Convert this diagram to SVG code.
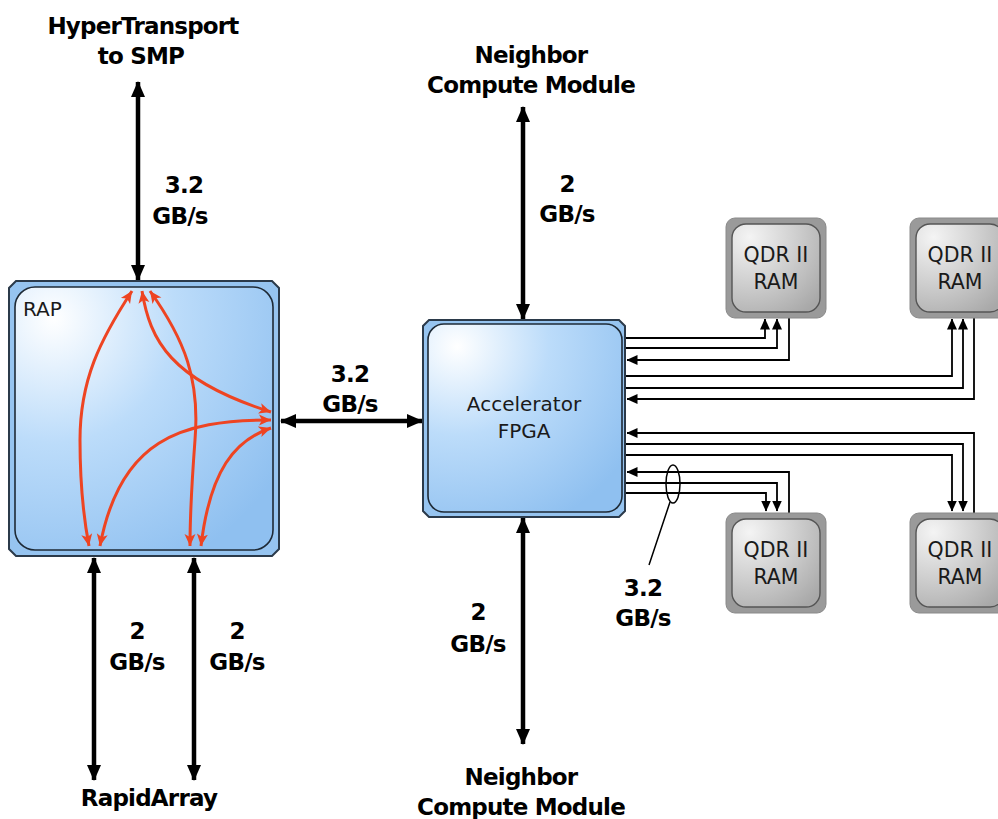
<svg xmlns="http://www.w3.org/2000/svg" width="998" height="819" viewBox="0 0 998 819">
<defs>
<radialGradient id="blueG" cx="0.15" cy="0.12" r="1.05" fx="0.15" fy="0.12">
<stop offset="0" stop-color="#ffffff"/>
<stop offset="0.45" stop-color="#bcdcfa"/>
<stop offset="1" stop-color="#8fc0f0"/>
</radialGradient>
<radialGradient id="grayG" cx="0.2" cy="0.15" r="1.05" fx="0.2" fy="0.15">
<stop offset="0" stop-color="#f4f4f4"/>
<stop offset="0.5" stop-color="#cfcfcf"/>
<stop offset="1" stop-color="#a8a8a8"/>
</radialGradient>
<marker id="bk" viewBox="0 0 16 16" refX="15" refY="8" markerWidth="16" markerHeight="16" markerUnits="userSpaceOnUse" orient="auto-start-reverse">
<path d="M0,1 L16,8 L0,15 Z" fill="#000"/>
</marker>
<marker id="sm" viewBox="0 0 11 11" refX="10.5" refY="5.5" markerWidth="11" markerHeight="11" markerUnits="userSpaceOnUse" orient="auto-start-reverse">
<path d="M0,0.5 L11,5.5 L0,10.5 Z" fill="#000"/>
</marker>
<marker id="rd" viewBox="0 0 13 13" refX="12" refY="6.5" markerWidth="13" markerHeight="13" markerUnits="userSpaceOnUse" orient="auto-start-reverse">
<path d="M0,1 L12,6.5 L0,12 L3,6.5 Z" fill="#ee4422"/>
</marker>
<style>
.t{font-family:"DejaVu Sans",Verdana,sans-serif;font-weight:bold;font-size:23px;letter-spacing:-0.8px;fill:#000;text-anchor:middle}
.n{font-family:"DejaVu Sans",Verdana,sans-serif;font-size:20px;fill:#1a1a1a;text-anchor:middle}
.q{font-family:"DejaVu Sans",Verdana,sans-serif;font-size:20.5px;fill:#1a1a1a;text-anchor:middle}
.thick{stroke:#000;stroke-width:4.5;fill:none;marker-start:url(#bk);marker-end:url(#bk)}
.thin{stroke:#000;stroke-width:1.8;fill:none}
.red{stroke:#ee4422;stroke-width:3;fill:none;marker-start:url(#rd);marker-end:url(#rd)}
.bout{fill:#96c4f0;stroke:#2b3a4a;stroke-width:2}
.bin{fill:url(#blueG);stroke:#1e2a36;stroke-width:1.6}
.gout{fill:#9a9a9a;stroke:#8a8a8a;stroke-width:1}
.gin{fill:url(#grayG);stroke:#555;stroke-width:1.4}
</style>
</defs>

<g id="connectors">
<line class="thick" x1="138" y1="82" x2="138" y2="280"/>
<line class="thick" x1="94" y1="558" x2="94" y2="780"/>
<line class="thick" x1="194" y1="558" x2="194" y2="780"/>
<line class="thick" x1="281" y1="421" x2="422" y2="421"/>
<line class="thick" x1="523" y1="107" x2="523" y2="319"/>
<line class="thick" x1="523" y1="518" x2="523" y2="744"/>

<path class="thin" marker-end="url(#sm)" d="M626,338 H765 V319"/>
<path class="thin" marker-end="url(#sm)" d="M626,348 H777 V319"/>
<path class="thin" marker-end="url(#sm)" d="M789,318 V360 H627"/>
<path class="thin" marker-end="url(#sm)" d="M626,376 H952 V319"/>
<path class="thin" marker-end="url(#sm)" d="M626,388 H963 V319"/>
<path class="thin" marker-end="url(#sm)" d="M974,318 V399 H627"/>
<path class="thin" marker-end="url(#sm)" d="M974,513 V433 H627"/>
<path class="thin" marker-end="url(#sm)" d="M626,444 H963 V511"/>
<path class="thin" marker-end="url(#sm)" d="M626,455 H952 V511"/>
<path class="thin" marker-end="url(#sm)" d="M789,513 V472 H627"/>
<path class="thin" marker-end="url(#sm)" d="M626,483 H777 V511"/>
<path class="thin" marker-end="url(#sm)" d="M626,493 H766 V511"/>
<ellipse cx="673" cy="484" rx="7" ry="19" fill="none" stroke="#000" stroke-width="1.5"/>
<line x1="670" y1="502" x2="649" y2="565" stroke="#000" stroke-width="1.5"/>
</g>

<g id="rap">
<polygon class="bout" points="16,281 272,281 279,288 279,549 272,556 16,556 9,549 9,288"/>
<rect class="bin" x="15" y="287" width="258" height="263" rx="20"/>
<text x="23" y="316" style="font-family:'DejaVu Sans',Verdana,sans-serif;font-size:20px;fill:#1a1a1a">RAP</text>
<path class="red" d="M132,291 C100,340 80,380 80,440 C80,490 84,520 89,546"/>
<path class="red" d="M142,291 C150,340 170,380 271,412"/>
<path class="red" d="M150,291 C185,340 200,380 195,440 C192,480 190,520 190,546"/>
<path class="red" d="M271,420 C180,420 120,440 100,546"/>
<path class="red" d="M271,428 C235,440 210,470 201,546"/>
</g>

<g id="fpga">
<polygon class="bout" points="429,320 619,320 625,326 625,511 619,517 429,517 423,511 423,326"/>
<rect class="bin" x="428" y="324" width="194" height="188" rx="16"/>
<text class="n" x="524" y="411">Accelerator</text>
<text class="n" x="524" y="438">FPGA</text>
</g>

<g id="qdr1">
<rect class="gout" x="726" y="218" width="100" height="100" rx="9"/>
<rect class="gin" x="732" y="224" width="88" height="88" rx="14"/>
<text class="q" x="776" y="262">QDR II</text>
<text class="q" x="776" y="289">RAM</text>
</g>
<g id="qdr2">
<rect class="gout" x="910" y="218" width="100" height="100" rx="9"/>
<rect class="gin" x="916" y="224" width="88" height="88" rx="14"/>
<text class="q" x="960" y="262">QDR II</text>
<text class="q" x="960" y="289">RAM</text>
</g>
<g id="qdr3">
<rect class="gout" x="726" y="513" width="100" height="100" rx="9"/>
<rect class="gin" x="732" y="519" width="88" height="88" rx="14"/>
<text class="q" x="776" y="557">QDR II</text>
<text class="q" x="776" y="584">RAM</text>
</g>
<g id="qdr4">
<rect class="gout" x="910" y="513" width="100" height="100" rx="9"/>
<rect class="gin" x="916" y="519" width="88" height="88" rx="14"/>
<text class="q" x="960" y="557">QDR II</text>
<text class="q" x="960" y="584">RAM</text>
</g>

<g id="labels">
<text class="t" x="143" y="34">HyperTransport</text>
<text class="t" x="141" y="64">to SMP</text>
<text class="t" x="531" y="63">Neighbor</text>
<text class="t" x="531" y="93">Compute Module</text>
<text class="t" x="521" y="785">Neighbor</text>
<text class="t" x="521" y="815">Compute Module</text>
<text class="t" x="149" y="806">RapidArray</text>
<text class="t" x="184" y="193">3.2</text>
<text class="t" x="180" y="224">GB/s</text>
<text class="t" x="567" y="192">2</text>
<text class="t" x="567" y="222">GB/s</text>
<text class="t" x="350" y="382">3.2</text>
<text class="t" x="350" y="412">GB/s</text>
<text class="t" x="478" y="620">2</text>
<text class="t" x="478" y="652">GB/s</text>
<text class="t" x="137" y="639">2</text>
<text class="t" x="137" y="670">GB/s</text>
<text class="t" x="237" y="639">2</text>
<text class="t" x="237" y="670">GB/s</text>
<text class="t" x="643" y="596">3.2</text>
<text class="t" x="643" y="626">GB/s</text>
</g>
</svg>
